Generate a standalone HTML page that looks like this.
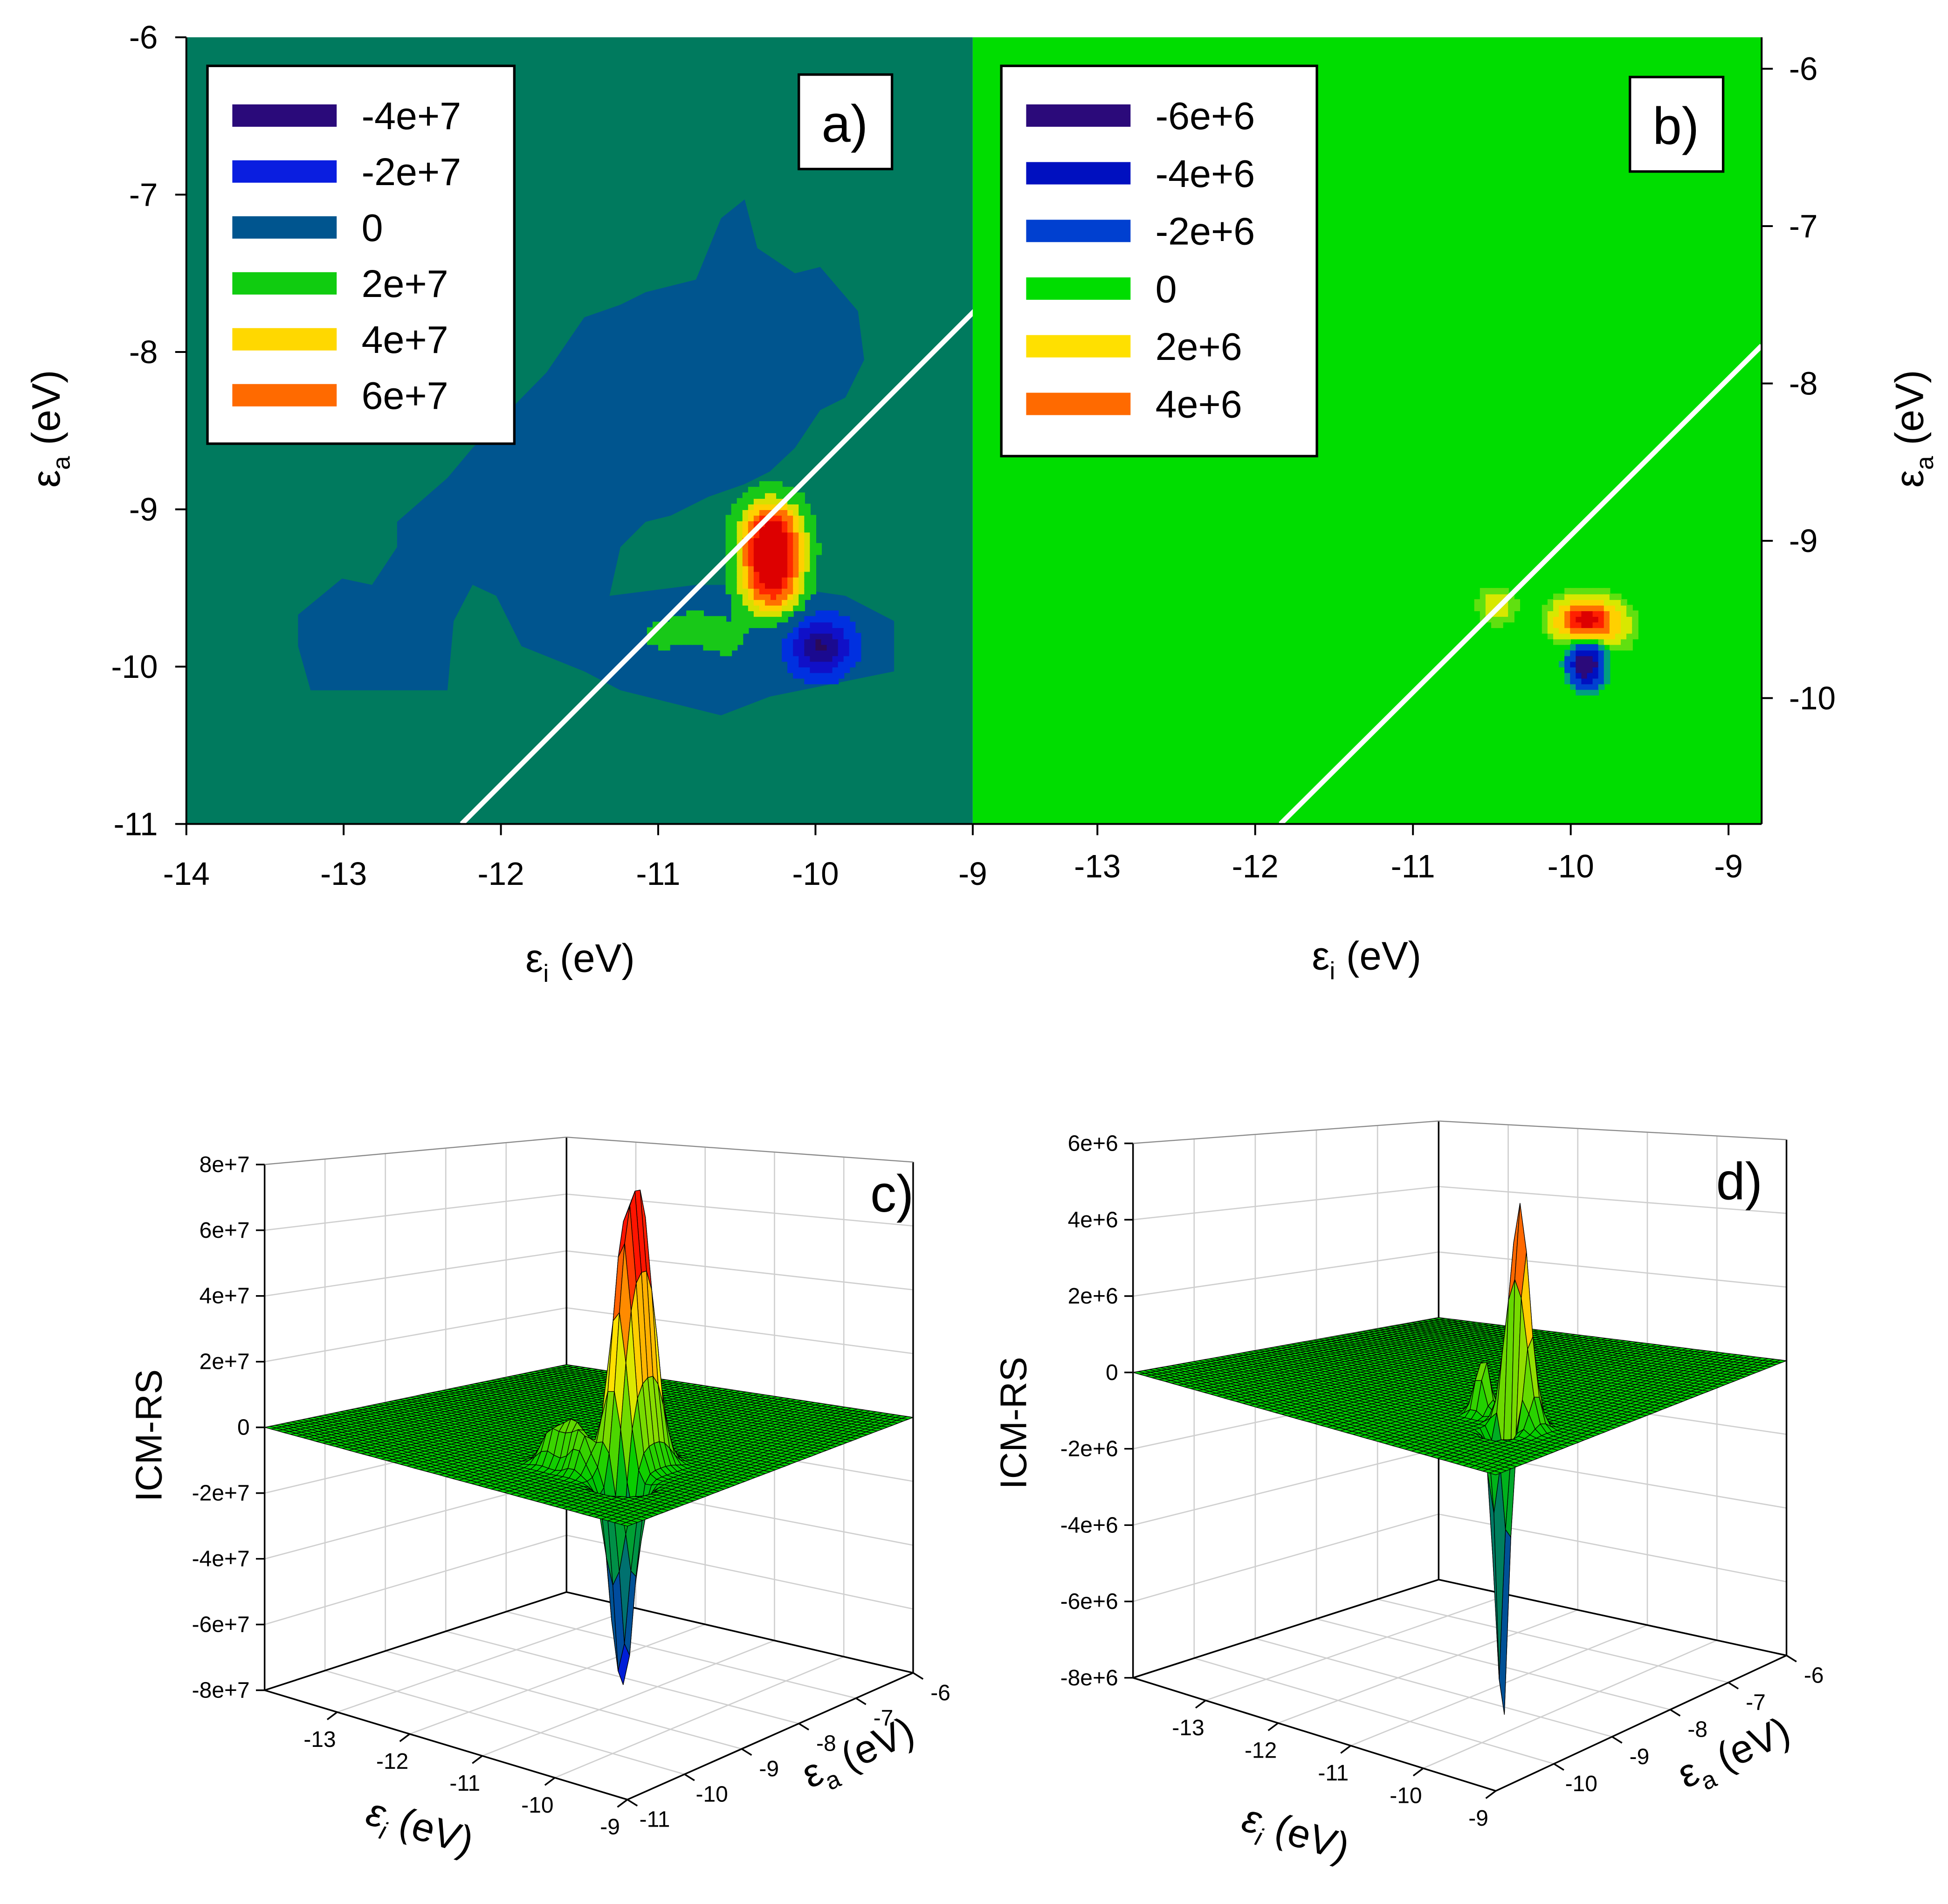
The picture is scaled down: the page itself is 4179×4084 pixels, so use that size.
<!DOCTYPE html>
<html><head><meta charset="utf-8"><style>
html,body{margin:0;padding:0;background:#fff;}
svg{display:block;}
text{font-family:"Liberation Sans",Arial,sans-serif;fill:#000;}
</style></head><body>
<svg id="root" xmlns="http://www.w3.org/2000/svg" width="4179" height="4084" viewBox="0 0 1568 1532" preserveAspectRatio="none">
<g id="pa"></g>
<g id="pb"></g>
<g id="pc"></g>
<g id="pd"></g>
</svg>
<script>
// ---------- data ----------
const eiTicksA = [-14,-13,-12,-11,-10,-9];
const eaTicksA = [-6,-7,-8,-9,-10,-11];
const eiTicksB = [-13,-12,-11,-10,-9];
const eaTicksB = [-6,-7,-8,-9,-10];
const legendLabelsA = ['-4e+7','-2e+7','0','2e+7','4e+7','6e+7'];
const legendColorsA = ['#2a0a7a','#0a1ee0','#00558f','#10cc10','#ffd800','#ff6a00'];
const legendLabelsB = ['-6e+6','-4e+6','-2e+6','0','2e+6','4e+6'];
const legendColorsB = ['#2b0a7a','#0010c0','#0040d0','#00dd00','#ffe000','#ff6a00'];
// peaks: ei, ea, amplitude, sigma_ei, sigma_ea
const peaksEiA = [-10.28,-10.28,-9.97,-10.75,-11.0,-10.55];
const peaksEaA = [-9.15,-9.45,-9.87,-9.75,-9.8,-9.85];
const peaksAmpA = [7.0e7,6.4e7,-6.3e7,1.3e7,1.1e7,1.0e7];
const peaksSxA = [0.14,0.14,0.13,0.12,0.12,0.1];
const peaksSyA = [0.16,0.16,0.12,0.1,0.1,0.1];
const peaksEiB = [-9.9,-9.9,-10.47,-9.7];
const peaksEaB = [-9.5,-9.78,-9.41,-9.6];
const peaksAmpB = [5.9e6,-8e6,1.6e6,0.6e6];
const peaksSxB = [0.13,0.07,0.08,0.1];
const peaksSyB = [0.09,0.09,0.08,0.1];
// region of small negative values in panel a (data coords)
const regionEi = [-13.29,-13.01,-12.82,-12.66,-12.66,-12.34,-12.18,-11.71,-11.47,-11.24,-11.08,-10.76,-10.60,-10.45,-10.37,-10.13,-9.97,-9.73,-9.69,-9.81,-9.97,-10.13,-10.29,-10.45,-10.68,-10.92,-11.08,-11.24,-11.31,-10.76,-10.29,-9.81,-9.50,-9.50,-10.29,-10.60,-11.24,-11.47,-11.87,-12.03,-12.18,-12.30,-12.34,-13.21,-13.29];
const regionEa = [-9.67,-9.44,-9.48,-9.24,-9.08,-8.80,-8.61,-8.13,-7.78,-7.70,-7.62,-7.54,-7.15,-7.03,-7.34,-7.50,-7.46,-7.74,-8.05,-8.29,-8.37,-8.61,-8.76,-8.84,-8.92,-9.04,-9.08,-9.24,-9.55,-9.48,-9.48,-9.55,-9.71,-10.03,-10.19,-10.31,-10.15,-10.03,-9.87,-9.55,-9.48,-9.71,-10.15,-10.15,-9.87];
const lineA = [[-12.25,-11],[-8.9,-7.65]];
const lineB = [[-11.84,-10.8],[-8.79,-7.76]];
const zTicksC = [8e7,6e7,4e7,2e7,0,-2e7,-4e7,-6e7,-8e7];
const zLabelsC = ['8e+7','6e+7','4e+7','2e+7','0','-2e+7','-4e+7','-6e+7','-8e+7'];
const zTicksD = [6e6,4e6,2e6,0,-2e6,-4e6,-6e6,-8e6];
const zLabelsD = ['6e+6','4e+6','2e+6','0','-2e+6','-4e+6','-6e+6','-8e+6'];
const eiTicks3 = [-13,-12,-11,-10,-9];
const eaTicksC = [-11,-10,-9,-8,-7,-6];
const eaTicksD = [-10,-9,-8,-7,-6];

// ---------- helpers ----------
const NS='http://www.w3.org/2000/svg';
function mk(parent,tag,attrs,txt){const e=document.createElementNS(NS,tag);for(const k in attrs)e.setAttribute(k,attrs[k]);if(txt!==undefined)e.textContent=txt;parent.appendChild(e);return e;}
function field(ei,ea,E,A,P,SX,SY){let v=0;for(let k=0;k<E.length;k++){const dx=(ei-E[k])/SX[k],dy=(ea-A[k])/SY[k];v+=P[k]*Math.exp(-0.5*(dx*dx+dy*dy));}return v;}

// ---------- contour panel ----------
function contour(g,o){
  const X=v=>o.x0+(v-o.eiMin)/(o.eiMax-o.eiMin)*(o.x1-o.x0);
  const Y=v=>o.y0+(o.eaMax-v)/(o.eaMax-o.eaMin)*(o.y1-o.y0);
  const bg=mk(g,'rect',{x:o.x0,y:o.y0,width:o.x1-o.x0,height:o.y1-o.y0,fill:o.bg});
  
  if(o.region){let d='';o.region[0].forEach((e,i)=>{d+=(i?'L':'M')+X(e).toFixed(1)+','+Y(o.region[1][i]).toFixed(1);});
    const p=mk(g,'path',{d:d+'Z',fill:'#00558f'});}
  const N=140,cw=(o.eiMax-o.eiMin)/N,ch=(o.eaMax-o.eaMin)/N;
  const cells=mk(g,'g',{});
  for(let i=0;i<N;i++)for(let j=0;j<N;j++){
    const ei=o.eiMin+(i+0.5)*cw,ea=o.eaMin+(j+0.5)*ch;
    const v=field(ei,ea,o.E,o.A,o.P,o.SX,o.SY);let c=null;
    for(const [t,col] of o.pos) if(v>=t)c=col;
    for(const [t,col] of o.neg) if(v<=t)c=col;
    if(c){mk(cells,'rect',{x:X(ei-cw/2).toFixed(2),y:Y(ea+ch/2).toFixed(2),width:(X(cw)-X(0)+0.6).toFixed(2),height:(Y(0)-Y(ch)+0.6).toFixed(2),fill:c});}
  }
  const l=mk(g,'line',{x1:X(o.line[0][0]),y1:Y(o.line[0][1]),x2:X(o.line[1][0]),y2:Y(o.line[1][1]),stroke:'#fff','stroke-width':4});
  
  const lg=mk(g,'g',{});
  mk(lg,'rect',{x:o.lg[0],y:o.lg[1],width:o.lg[2],height:o.lg[3],fill:'#fff',stroke:'#000','stroke-width':2});
  o.lgLabels.forEach((t,i)=>{const yy=o.lg[1]+40+i*o.lgStep;
    const it=mk(lg,'g',{});
    mk(it,'rect',{x:o.lg[0]+20,y:yy-9,width:84,height:18,fill:o.lgColors[i]});
    mk(it,'text',{x:o.lg[0]+124,y:yy+11,'font-size':31},t);});
  const pl=mk(g,'g',{});
  mk(pl,'rect',{x:o.lab[0],y:o.lab[1],width:75,height:76,fill:'#fff',stroke:'#000','stroke-width':2});
  mk(pl,'text',{x:o.lab[0]+37,y:o.lab[1]+54,'font-size':42,'text-anchor':'middle'},o.labText);
}

const ga=document.getElementById('pa');
contour(ga,{id:'panel-a',x0:150,x1:783,y0:30,y1:663,eiMin:-14,eiMax:-9,eaMin:-11,eaMax:-6,bg:'#007a5e',
 region:[regionEi,regionEa],E:peaksEiA,A:peaksEaA,P:peaksAmpA,SX:peaksSxA,SY:peaksSyA,
 pos:[[0.9e7,'#18c818'],[2.2e7,'#d8e000'],[3.2e7,'#ffd000'],[4.2e7,'#ff7000'],[5.4e7,'#ff2800'],[6.6e7,'#dd0000']],
 neg:[[-0.9e7,'#0030e0'],[-2.5e7,'#1010c8'],[-4.5e7,'#1a0a90'],[-6e7,'#2a0a5a']],
 line:lineA,lg:[167,53,247,304],lgStep:45,lgLabels:legendLabelsA,lgColors:legendColorsA,lab:[643,60],labText:'a)'});
const gb=document.getElementById('pb');
contour(gb,{id:'panel-b',x0:783,x1:1418,y0:30,y1:663,eiMin:-13.79,eiMax:-8.79,eaMin:-10.8,eaMax:-5.8,bg:'#00dd00',
 E:peaksEiB,A:peaksEaB,P:peaksAmpB,SX:peaksSxB,SY:peaksSyB,
 pos:[[0.45e6,'#60e010'],[0.9e6,'#d8e800'],[1.8e6,'#ffd000'],[3.0e6,'#ff7000'],[4.2e6,'#ff2000'],[5.2e6,'#dd0000']],
 neg:[[-0.6e6,'#00a080'],[-1.5e6,'#0040d0'],[-3.5e6,'#0010c0'],[-5.5e6,'#2b0a7a']],
 line:lineB,lg:[806,53,254,314],lgStep:46.4,lgLabels:legendLabelsB,lgColors:legendColorsB,lab:[1312,62],labText:'b)'});
(function(){
 const ax=mk(ga,'g',{});
 const XA=v=>150+(v+14)/5*633, YA=v=>30+(-6-v)/5*633;
 mk(ax,'line',{x1:150,y1:30,x2:150,y2:663,stroke:'#000','stroke-width':1.5});
 mk(ax,'line',{x1:150,y1:663,x2:783,y2:663,stroke:'#000','stroke-width':1.5});
 eaTicksA.forEach(v=>{mk(ax,'line',{x1:141,y1:YA(v),x2:150,y2:YA(v),stroke:'#000','stroke-width':1.5});
  mk(ax,'text',{x:127,y:YA(v)+9,'font-size':26,'text-anchor':'end'},String(v));});
 eiTicksA.forEach(v=>{mk(ax,'line',{x1:XA(v),y1:663,x2:XA(v),y2:672,stroke:'#000','stroke-width':1.5});
  mk(ax,'text',{x:XA(v),y:712,'font-size':26,'text-anchor':'middle'},String(v));});
 const t1=mk(ax,'text',{x:467,y:782,'font-size':32,'text-anchor':'middle'});t1.innerHTML='ε<tspan font-size="20" dy="8">i</tspan><tspan dy="-8"> (eV)</tspan>';
 
 const t2=mk(ax,'text',{x:0,y:0,'font-size':32,'text-anchor':'middle',transform:'translate(48,345) rotate(-90)'});t2.innerHTML='ε<tspan font-size="20" dy="8">a</tspan><tspan dy="-8"> (eV)</tspan>';
 
 const bx=mk(gb,'g',{});
 const XB=v=>783+(v+13.79)/5*635, YB=v=>30+(-5.8-v)/5*633;
 mk(bx,'line',{x1:1418,y1:30,x2:1418,y2:663,stroke:'#000','stroke-width':1.5});
 mk(bx,'line',{x1:783,y1:663,x2:1418,y2:663,stroke:'#000','stroke-width':1.5});
 eaTicksB.forEach(v=>{mk(bx,'line',{x1:1418,y1:YB(v),x2:1427,y2:YB(v),stroke:'#000','stroke-width':1.5});
  mk(bx,'text',{x:1440,y:YB(v)+9,'font-size':26},String(v));});
 eiTicksB.forEach(v=>{mk(bx,'line',{x1:XB(v),y1:663,x2:XB(v),y2:672,stroke:'#000','stroke-width':1.5});
  mk(bx,'text',{x:XB(v),y:706,'font-size':26,'text-anchor':'middle'},String(v));});
 const t3=mk(bx,'text',{x:1100,y:780,'font-size':32,'text-anchor':'middle'});t3.innerHTML='ε<tspan font-size="20" dy="8">i</tspan><tspan dy="-8"> (eV)</tspan>';
 
 const t4=mk(bx,'text',{x:0,y:0,'font-size':32,'text-anchor':'middle',transform:'translate(1548,345) rotate(-90)'});t4.innerHTML='ε<tspan font-size="20" dy="8">a</tspan><tspan dy="-8"> (eV)</tspan>';
 
})();

// ---------- 3D surface ----------
function surface(g,o){
  const P=(ei,ea,z)=>{const u=(ei+14)/5,v=(ea+11)/5,w=(z-o.zMin)/(o.zMax-o.zMin);
    const a=(1-u)*(1-v),b=u*(1-v),c=u*v,d=(1-u)*v;
    const x=o.L[0]*a+o.F[0]*b+o.R[0]*c+o.B[0]*d;
    const y=o.L[1]*a+o.F[1]*b+o.R[1]*c+o.B[1]*d;
    const h=o.L[2]*a+o.F[2]*b+o.R[2]*c+o.B[2]*d;
    return [x,y-w*h];};
  const pt=p=>p[0].toFixed(1)+','+p[1].toFixed(1);
  const grid=mk(g,'g',{stroke:'#cfcfcf','stroke-width':1,fill:'none'});
  for(let e=-14;e<=-9;e++){const p=P(e,-11,o.zMin),q=P(e,-6,o.zMin);mk(grid,'line',{x1:p[0],y1:p[1],x2:q[0],y2:q[1]});}
  for(let a=-11;a<=-6;a++){const p=P(-14,a,o.zMin),q=P(-9,a,o.zMin);mk(grid,'line',{x1:p[0],y1:p[1],x2:q[0],y2:q[1]});}
  o.zT.forEach(z=>{const a=P(-14,-11,z),b=P(-14,-6,z),c=P(-9,-6,z);mk(grid,'polyline',{points:pt(a)+' '+pt(b)+' '+pt(c)});});
  for(let a=-11;a<=-6;a++){const p=P(-14,a,o.zMin),q=P(-14,a,o.zMax);mk(grid,'line',{x1:p[0],y1:p[1],x2:q[0],y2:q[1]});}
  for(let e=-14;e<=-9;e++){const p=P(e,-6,o.zMin),q=P(e,-6,o.zMax);mk(grid,'line',{x1:p[0],y1:p[1],x2:q[0],y2:q[1]});}
  const ax=mk(g,'g',{stroke:'#000','stroke-width':1.3,fill:'none'});
  [[[-14,-11,o.zMin],[-14,-11,o.zMax]],[[-14,-6,o.zMin],[-14,-6,o.zMax]],[[-9,-6,o.zMin],[-9,-6,o.zMax]],
   [[-14,-11,o.zMin],[-9,-11,o.zMin]],[[-9,-11,o.zMin],[-9,-6,o.zMin]],[[-14,-11,o.zMin],[-14,-6,o.zMin]],[[-14,-6,o.zMin],[-9,-6,o.zMin]],
   [[-14,-11,o.zMax],[-14,-6,o.zMax]],[[-14,-6,o.zMax],[-9,-6,o.zMax]]].forEach(s=>{
    const top=s[0][2]===o.zMax&&s[1][2]===o.zMax;
    const a=P(...s[0]),b=P(...s[1]);mk(ax,'line',{x1:a[0],y1:a[1],x2:b[0],y2:b[1],stroke:top?'#888':'#000','stroke-width':top?0.8:1.3});});
  o.zT.forEach((z,i)=>{const p=P(-14,-11,z);mk(ax,'line',{x1:p[0]-7,y1:p[1],x2:p[0],y2:p[1]});
    mk(g,'text',{x:p[0]-12,y:p[1]+6,'font-size':18,'text-anchor':'end'},o.zL[i]);});
  o.eiT.forEach(e=>{const p=P(e,-11,o.zMin);mk(ax,'line',{x1:p[0],y1:p[1],x2:p[0]-8,y2:p[1]+6});
    mk(g,'text',{x:p[0]-14,y:p[1]+28,'font-size':18,'text-anchor':'middle'},String(e));});
  o.eaT.forEach(a=>{const p=P(-9,a,o.zMin);mk(ax,'line',{x1:p[0],y1:p[1],x2:p[0]+8,y2:p[1]+5});
    mk(g,'text',{x:p[0]+22,y:p[1]+22,'font-size':18,'text-anchor':'middle'},String(a));});
  const N=o.N,mesh=mk(g,'g',{stroke:'#000','stroke-width':0.5,'stroke-linejoin':'round'});
  
  const Z=[];for(let i=0;i<=N;i++){Z[i]=[];for(let j=0;j<=N;j++)Z[i][j]=field(-14+5*i/N,-11+5*j/N,o.E,o.A,o.Pk,o.SX,o.SY);}
  const col=z=>{let r,gg,b;if(z<0){const t=Math.min(1,-z/(-o.zLow));r=0;gg=Math.round(200*(1-t));b=Math.round(255*t);}
    else{const t=Math.min(1,z/o.zHigh);if(t<0.5){r=Math.round(255*t*2);gg=Math.round(205+(235-205)*t*2);b=0;}else{r=255;gg=Math.round(235*(1-(t-0.5)*2)*0.9+20);b=0;}}return `rgb(${r},${gg},${b})`;};
  const quads=[];for(let i=0;i<N;i++)for(let j=0;j<N;j++)quads.push([i,j,(N-i)+j]);
  quads.sort((a,b)=>b[2]-a[2]);
  quads.forEach(([i,j])=>{const e0=-14+5*i/N,e1=-14+5*(i+1)/N,a0=-11+5*j/N,a1=-11+5*(j+1)/N;
    const zm=(Z[i][j]+Z[i+1][j]+Z[i][j+1]+Z[i+1][j+1])/4;
    mk(mesh,'polygon',{points:[P(e0,a0,Z[i][j]),P(e1,a0,Z[i+1][j]),P(e1,a1,Z[i+1][j+1]),P(e0,a1,Z[i][j+1])].map(pt).join(' '),fill:col(zm)});});
  const tz=mk(g,'text',{x:0,y:0,'font-size':30,'text-anchor':'middle',transform:`translate(${o.zTitle[0]},${o.zTitle[1]}) rotate(-90)`},'ICM-RS');
  
  const ti=mk(g,'text',{x:0,y:0,'font-size':32,'text-anchor':'middle',transform:`translate(${o.eiTitle[0]},${o.eiTitle[1]}) rotate(17)`});
  ti.innerHTML='<tspan font-style="italic">ε</tspan><tspan font-size="20" dy="8" font-style="italic">i</tspan><tspan dy="-8"> (eV)</tspan>';
  
  const ta=mk(g,'text',{x:0,y:0,'font-size':32,'text-anchor':'middle',transform:`translate(${o.eaTitle[0]},${o.eaTitle[1]}) rotate(-24)`});
  ta.innerHTML='ε<tspan font-size="20" dy="8">a</tspan><tspan dy="-8"> (eV)</tspan>';
  
  const pl=mk(g,'text',{x:o.lab[0],y:o.lab[1],'font-size':42,'text-anchor':'middle'},o.labText);
  
}
surface(document.getElementById('pc'),{id:'panel-c',L:[213,1360,423],F:[505,1448,440],R:[735,1346,411],B:[456,1281,366],zMin:-8e7,zMax:8e7,
 zT:zTicksC,zL:zLabelsC,eiT:eiTicks3,eaT:eaTicksC,N:56,E:peaksEiA,A:peaksEaA,Pk:peaksAmpA,SX:peaksSxA,SY:peaksSyA,
 zLow:-6.3e7,zHigh:7.0e7,zTitle:[130,1155],eiTitle:[335,1480],eaTitle:[695,1420],lab:[718,975],labText:'c)'});
surface(document.getElementById('pd'),{id:'panel-d',L:[912,1350,430],F:[1204,1441,445],R:[1438,1332,415],B:[1158,1271,369],zMin:-8e6,zMax:6e6,
 zT:zTicksD,zL:zLabelsD,eiT:eiTicks3,eaT:eaTicksD,N:56,E:peaksEiB,A:peaksEaB,Pk:peaksAmpB,SX:peaksSxB,SY:peaksSyB,
 zLow:-8e6,zHigh:5.5e6,zTitle:[826,1145],eiTitle:[1040,1485],eaTitle:[1400,1420],lab:[1400,965],labText:'d)'});
</script>
</body></html>
